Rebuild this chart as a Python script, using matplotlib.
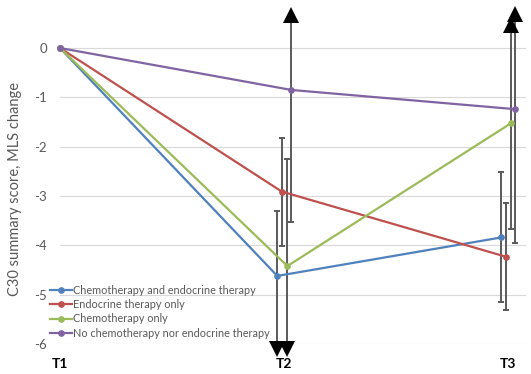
import numpy as np
import matplotlib
matplotlib.use("Agg")
import matplotlib.pyplot as plt

plt.rcParams['font.family'] = ['Lato', 'DejaVu Sans']
plt.rcParams['axes.unicode_minus'] = False

timepoints = ['T1', 'T2', 'T3']
groups = ['Chemotherapy and endocrine therapy', 'Endocrine therapy only',
          'Chemotherapy only', 'No chemotherapy nor endocrine therapy']
colors = ['#4F81BD', '#C0504D', '#9BBB59', '#8064A2']

# mean change per group at T1, T2, T3
chemo_endo = [0, -4.62, -3.84]
endo_only = [0, -2.91, -4.23]
chemo_only = [0, -4.42, -1.52]
no_chemo = [0, -0.85, -1.24]

# confidence limits (ends outside -6..0 are drawn as arrows)
chemo_endo_lo = [np.nan, -6.26, -5.14]
chemo_endo_hi = [np.nan, -3.30, -2.52]
endo_only_lo = [np.nan, -4.01, -5.31]
endo_only_hi = [np.nan, -1.83, -3.15]
chemo_only_lo = [np.nan, -6.26, -3.67]
chemo_only_hi = [np.nan, -2.25, 0.61]
no_chemo_lo = [np.nan, -3.53, -3.95]
no_chemo_hi = [np.nan, 0.82, 0.83]

means = [chemo_endo, endo_only, chemo_only, no_chemo]
lows = [chemo_endo_lo, endo_only_lo, chemo_only_lo, no_chemo_lo]
highs = [chemo_endo_hi, endo_only_hi, chemo_only_hi, no_chemo_hi]
offsets = [-0.03, -0.01, 0.015, 0.033]

fig = plt.figure(figsize=(5.31, 3.74), dpi=100)
ax = fig.add_axes([60 / 531, 30 / 374, 466 / 531, 344 / 374])

grey_txt = '#595959'
bar_col = '#5a5a5a'
head = 0.3  # arrow head height in data units

for k in range(len(groups)):
    xs = np.arange(len(timepoints)) + np.array([0, offsets[k], offsets[k]])
    ax.plot(xs, means[k], color=colors[k], lw=1.6, marker='o', ms=3.8,
            label=groups[k], zorder=4, clip_on=False)
    for i in range(1, len(timepoints)):
        lo, hi = lows[k][i], highs[k][i]
        lo_d = lo + head if lo < -6 else lo
        hi_d = hi - head if hi > 0 else hi
        ax.plot([xs[i], xs[i]], [lo_d, hi_d], color=bar_col, lw=1.4,
                zorder=2, clip_on=False)
        if lo < -6:
            ax.plot(xs[i], lo + head / 2, marker='v', ms=11, mew=0,
                    color='black', zorder=3, clip_on=False)
        else:
            ax.plot(xs[i], lo, marker='_', ms=5, mew=1.4, color=bar_col,
                    zorder=2, clip_on=False)
        if hi > 0:
            ax.plot(xs[i], hi - head / 2, marker='^', ms=11, mew=0,
                    color='black', zorder=3, clip_on=False)
        else:
            ax.plot(xs[i], hi, marker='_', ms=5, mew=1.4, color=bar_col,
                    zorder=2, clip_on=False)

ax.set_xlim(0, 466 / 224)
ax.set_ylim(-6, -6 + 344 / 49.33)
ax.set_yticks(range(-6, 1))
ax.set_xticks(range(len(timepoints)))
ax.set_xticklabels(timepoints, fontweight='bold', fontsize=10, color='black')
ax.tick_params(axis='y', length=0, pad=9.5, labelsize=9.5, labelcolor=grey_txt)
ax.tick_params(axis='x', length=0, pad=10)
ax.grid(axis='y', color='#d9d9d9', lw=0.8)
ax.set_axisbelow(True)
for s in ax.spines.values():
    s.set_visible(False)

fig.text(15 / 531, 1 - 189 / 374, 'C30 summary score, MLS change', rotation=90,
         ha='center', va='center', fontsize=10.5, color=grey_txt)

leg = ax.legend(loc='upper left', bbox_to_anchor=(50 / 531, 1 - 285 / 374),
                bbox_transform=fig.transFigure, frameon=False, borderpad=0,
                borderaxespad=0, handlelength=2.0, handletextpad=0.1,
                labelspacing=0.3, fontsize=7.8, numpoints=1)
for t in leg.get_texts():
    t.set_color(grey_txt)

fig.savefig('out.png', dpi=100)
